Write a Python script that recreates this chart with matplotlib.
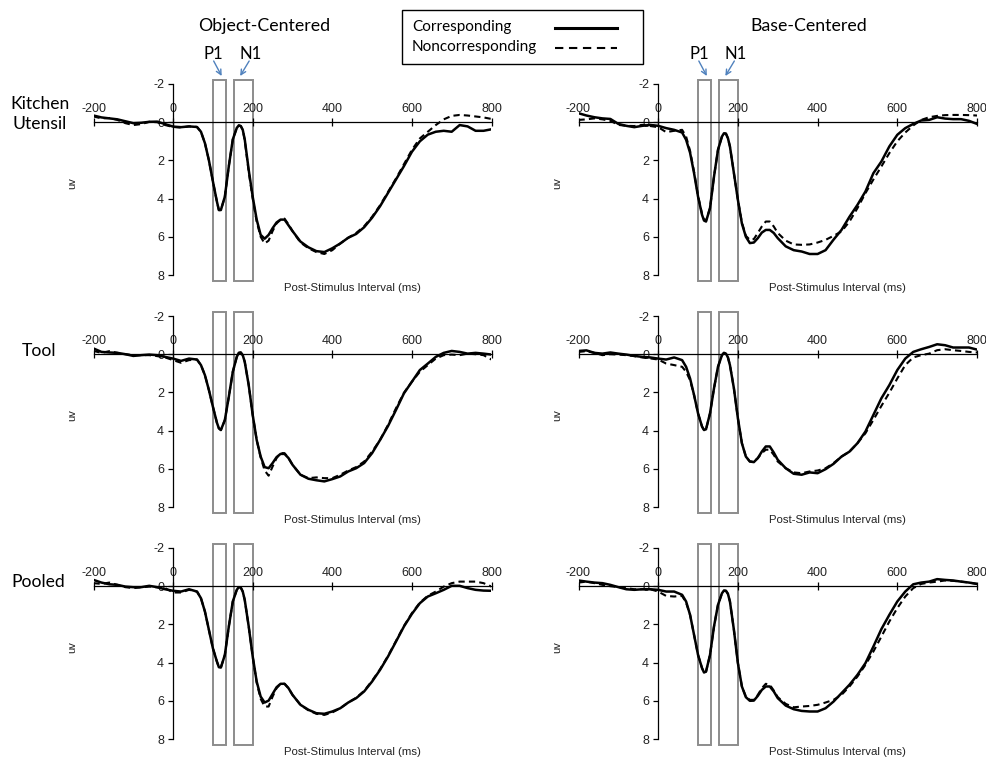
import numpy as np
import matplotlib
matplotlib.use('Agg')
import matplotlib.pyplot as plt
from matplotlib.patches import Rectangle
from matplotlib.lines import Line2D

plt.rcParams['axes.unicode_minus'] = False

# ---------------- data ----------------
time_ms = [-200, -180, -160, -140, -120, -100, -80, -60, -40, -20, 0, 20, 40, 60,
           70, 80, 90, 100, 110, 115, 120, 130, 140, 150, 160, 165, 170, 175, 180, 190,
           200, 210, 220, 230, 240, 250, 260, 270, 280, 290, 300,
           320, 340, 360, 380, 400, 420, 440, 460, 480, 500, 520, 540, 560, 580, 600,
           620, 640, 660, 680, 700, 720, 740, 760, 780, 800]

# Kitchen Utensil - Object-Centered
ku_obj_corr = [-0.35, -0.25, -0.2, -0.15, -0.05, 0.05, 0.03, -0.02, -0.03, 0.1, 0.23, 0.26, 0.22, 0.25,
               0.5, 1.1, 2.0, 3.1, 4.15, 4.6, 4.6, 3.9, 2.3, 0.9, 0.3, 0.17, 0.2, 0.4, 0.9, 2.5,
               3.9, 5.1, 5.9, 6.1, 5.9, 5.55, 5.25, 5.1, 5.1, 5.4, 5.7,
               6.25, 6.55, 6.75, 6.8, 6.6, 6.35, 6.05, 5.85, 5.5, 5.0, 4.4, 3.7, 3.0, 2.3, 1.55,
               1.0, 0.65, 0.5, 0.45, 0.5, 0.15, 0.22, 0.45, 0.45, 0.37]
ku_obj_non = [-0.3, -0.2, -0.22, -0.12, 0.05, 0.15, 0.1, -0.02, 0.0, 0.15, 0.25, 0.28, 0.22, 0.25,
              0.5, 1.1, 2.0, 3.1, 4.15, 4.6, 4.6, 3.9, 2.3, 0.9, 0.3, 0.17, 0.2, 0.4, 0.95, 2.6,
              4.0, 5.2, 6.0, 6.35, 6.2, 5.7, 5.3, 5.1, 5.05, 5.35, 5.7,
              6.3, 6.6, 6.8, 6.9, 6.7, 6.35, 6.05, 5.8, 5.45, 4.95, 4.35, 3.65, 2.95, 2.2, 1.45,
              0.85, 0.5, 0.15, -0.15, -0.33, -0.38, -0.35, -0.3, -0.25, -0.17]

# Kitchen Utensil - Base-Centered
ku_base_corr = [-0.47, -0.35, -0.26, -0.2, -0.17, 0.09, 0.19, 0.26, 0.19, 0.14, 0.19, 0.31, 0.4, 0.54,
                0.92, 1.6, 2.67, 3.9, 4.85, 5.15, 5.2, 4.5, 2.85, 1.45, 0.75, 0.58, 0.6, 0.84, 1.27, 2.67,
                4.07, 5.3, 6.0, 6.33, 6.3, 6.07, 5.78, 5.64, 5.64, 5.8, 6.07,
                6.5, 6.7, 6.77, 6.9, 6.9, 6.7, 6.15, 5.64, 4.95, 4.33, 3.63, 2.67, 2.06, 1.27, 0.66,
                0.31, 0.09, -0.09, -0.12, -0.26, -0.19, -0.16, -0.16, -0.07, 0.09]
ku_base_non = [-0.12, -0.15, -0.2, -0.15, -0.07, 0.14, 0.19, 0.2, 0.14, 0.2, 0.26, 0.52, 0.45, 0.4,
               0.75, 1.5, 2.6, 3.85, 4.8, 5.1, 5.15, 4.5, 2.85, 1.45, 0.75, 0.58, 0.6, 0.84, 1.27, 2.67,
               4.07, 5.25, 5.95, 6.16, 6.12, 5.8, 5.46, 5.2, 5.2, 5.46, 5.8,
               6.2, 6.4, 6.42, 6.4, 6.3, 6.16, 5.95, 5.72, 5.2, 4.5, 3.72, 3.0, 2.32, 1.62, 1.0,
               0.54, 0.17, -0.12, -0.26, -0.33, -0.37, -0.38, -0.38, -0.37, -0.35]

# Tool - Object-Centered
tool_obj_corr = [-0.3, -0.12, -0.09, -0.07, 0.0, 0.09, 0.05, 0.02, 0.05, 0.14, 0.23, 0.35, 0.23, 0.28,
                 0.57, 1.1, 1.88, 2.75, 3.58, 3.88, 3.97, 3.45, 2.23, 0.92, 0.14, -0.07, -0.09, 0.05, 0.4, 1.62,
                 3.18, 4.49, 5.36, 5.91, 5.97, 5.7, 5.39, 5.22, 5.22, 5.44, 5.79,
                 6.31, 6.52, 6.6, 6.66, 6.54, 6.4, 6.14, 5.97, 5.7, 5.18, 4.49, 3.76, 2.92, 2.05, 1.44,
                 0.83, 0.49, 0.14, -0.07, -0.17, -0.12, -0.03, -0.07, -0.03, 0.02]
tool_obj_non = [-0.17, -0.07, -0.16, -0.07, 0.0, 0.05, 0.05, 0.05, 0.1, 0.17, 0.31, 0.45, 0.31, 0.28,
                0.57, 1.1, 1.88, 2.75, 3.58, 3.88, 3.97, 3.45, 2.23, 0.92, 0.14, -0.07, -0.09, 0.05, 0.4, 1.62,
                3.18, 4.49, 5.4, 6.09, 6.36, 5.88, 5.44, 5.18, 5.18, 5.44, 5.79,
                6.31, 6.49, 6.45, 6.49, 6.49, 6.31, 6.09, 5.91, 5.62, 5.1, 4.49, 3.7, 2.83, 2.02, 1.44,
                0.92, 0.57, 0.23, 0.05, 0.02, 0.05, -0.03, 0.0, 0.05, 0.28]

# Tool - Base-Centered
tool_base_corr = [-0.17, -0.2, -0.07, -0.03, -0.09, -0.03, 0.02, 0.09, 0.14, 0.17, 0.23, 0.28, 0.17, 0.31,
                  0.66, 1.27, 2.14, 3.1, 3.79, 3.97, 3.93, 3.1, 1.79, 0.66, 0.05, -0.07, -0.03, 0.17, 0.57, 1.79,
                  3.36, 4.66, 5.36, 5.62, 5.65, 5.44, 5.1, 4.83, 4.83, 5.15, 5.53,
                  5.97, 6.26, 6.31, 6.19, 6.23, 6.02, 5.74, 5.36, 5.1, 4.66, 4.05, 3.18, 2.31, 1.62, 0.83,
                  0.23, -0.12, -0.26, -0.38, -0.52, -0.47, -0.35, -0.35, -0.35, -0.24]
tool_base_non = [-0.12, -0.16, -0.07, 0.05, 0.0, 0.02, 0.05, 0.1, 0.17, 0.22, 0.28, 0.49, 0.57, 0.66,
                 0.92, 1.36, 2.14, 3.1, 3.79, 3.97, 3.93, 3.1, 1.79, 0.66, 0.05, -0.07, -0.03, 0.17, 0.57, 1.79,
                 3.36, 4.66, 5.36, 5.62, 5.62, 5.44, 5.18, 5.0, 5.0, 5.27, 5.62,
                 5.97, 6.19, 6.23, 6.14, 6.09, 5.97, 5.7, 5.36, 5.1, 4.66, 4.14, 3.44, 2.71, 2.02, 1.27,
                 0.57, 0.17, 0.05, -0.03, -0.21, -0.26, -0.21, -0.17, -0.12, -0.09]

# Pooled - Object-Centered
pool_obj_corr = [-0.33, -0.19, -0.1, -0.07, 0.02, 0.05, 0.05, -0.02, 0.05, 0.16, 0.24, 0.28, 0.16, 0.28,
                 0.63, 1.33, 2.29, 3.25, 3.94, 4.24, 4.26, 3.6, 2.11, 0.8, 0.19, 0.05, 0.07, 0.28, 0.72, 2.11,
                 3.68, 4.99, 5.78, 6.09, 5.99, 5.64, 5.29, 5.11, 5.11, 5.34, 5.69,
                 6.21, 6.47, 6.65, 6.68, 6.56, 6.39, 6.09, 5.86, 5.51, 4.99, 4.38, 3.68, 2.9, 2.11, 1.45,
                 0.89, 0.54, 0.37, 0.19, -0.02, -0.02, 0.1, 0.19, 0.23, 0.24]
pool_obj_non = [-0.16, -0.12, -0.19, -0.07, 0.05, 0.1, 0.06, 0.02, 0.06, 0.1, 0.33, 0.33, 0.19, 0.28,
                0.63, 1.33, 2.29, 3.25, 3.94, 4.24, 4.26, 3.6, 2.11, 0.8, 0.19, 0.05, 0.07, 0.28, 0.72, 2.11,
                3.68, 5.05, 5.9, 6.3, 6.3, 5.78, 5.34, 5.11, 5.11, 5.34, 5.69,
                6.21, 6.5, 6.68, 6.74, 6.61, 6.39, 6.09, 5.84, 5.48, 4.95, 4.35, 3.65, 2.87, 2.08, 1.41,
                0.86, 0.5, 0.28, 0.02, -0.16, -0.24, -0.24, -0.24, -0.16, 0.02]

# Pooled - Base-Centered
pool_base_corr = [-0.3, -0.24, -0.19, -0.16, -0.07, 0.05, 0.16, 0.19, 0.16, 0.16, 0.19, 0.28, 0.28, 0.45,
                  0.8, 1.5, 2.55, 3.6, 4.29, 4.52, 4.47, 3.6, 2.11, 0.98, 0.37, 0.23, 0.24, 0.4, 0.8, 2.29,
                  4.03, 5.25, 5.81, 6.0, 5.99, 5.74, 5.43, 5.25, 5.25, 5.51, 5.86,
                  6.25, 6.44, 6.53, 6.56, 6.56, 6.39, 6.04, 5.6, 5.16, 4.64, 4.03, 3.16, 2.25, 1.5, 0.8,
                  0.28, -0.1, -0.19, -0.24, -0.37, -0.33, -0.3, -0.24, -0.19, -0.12]
pool_base_non = [-0.19, -0.24, -0.16, -0.07, 0.0, 0.05, 0.1, 0.16, 0.16, 0.16, 0.28, 0.51, 0.54, 0.51,
                 0.86, 1.5, 2.55, 3.6, 4.29, 4.52, 4.47, 3.6, 2.11, 0.98, 0.37, 0.23, 0.24, 0.4, 0.8, 2.29,
                 4.03, 5.25, 5.78, 5.95, 5.95, 5.69, 5.34, 5.11, 5.16, 5.46, 5.81,
                 6.16, 6.34, 6.3, 6.27, 6.21, 6.09, 5.95, 5.69, 5.25, 4.73, 4.12, 3.42, 2.64, 1.85, 1.15,
                 0.54, 0.1, -0.12, -0.19, -0.24, -0.3, -0.28, -0.24, -0.19, -0.12]

x_ticks = [-200, 0, 200, 400, 600, 800]
y_ticks = [-2, 0, 2, 4, 6, 8]
col_titles = ['Object-Centered', 'Base-Centered']
row_labels = ['Kitchen\nUtensil', 'Tool', 'Pooled']
legend_labels = ['Corresponding', 'Noncorresponding']
p1_window = (100, 133)
n1_window = (152, 201)

panels = [[(ku_obj_corr, ku_obj_non), (ku_base_corr, ku_base_non)],
          [(tool_obj_corr, tool_obj_non), (tool_base_corr, tool_base_non)],
          [(pool_obj_corr, pool_obj_non), (pool_base_corr, pool_base_non)]]

# ---------------- layout ----------------
W, H = 986, 758
fig = plt.figure(figsize=(W / 100, H / 100), dpi=100)

def fx(px):
    return px / W

def fy(py):
    return 1 - py / H

title_font = ['Lato', 'DejaVu Sans']
tick_font = ['Liberation Sans', 'DejaVu Sans']

cols = [(93.5, 491.5), (578.5, 977.0)]
rows_top = [84, 316, 548]  # pixel position of y = -2
unit = 19.1
ylo, yhi = -2.4, 8.4

solid_kw = dict(color='black', lw=1.8, solid_joinstyle='round', solid_capstyle='round')
dash_kw = dict(color='black', lw=1.5, linestyle=(0, (3.0, 2.0)))
box_kw = dict(fill=False, edgecolor='#8c8c8c', lw=1.4, clip_on=False)

for r in range(3):
    for c in range(2):
        x0, x1 = cols[c]
        top = rows_top[r] + (ylo + 2) * unit
        bot = rows_top[r] + (yhi + 2) * unit
        ax = fig.add_axes([fx(x0), fy(bot), (x1 - x0) / W, (bot - top) / H])
        ax.patch.set_visible(False)
        ax.set_xlim(-200, 800)
        ax.set_ylim(yhi, ylo)

        corr, non = panels[r][c]
        ax.plot(time_ms, corr, **solid_kw)
        ax.plot(time_ms, non, **dash_kw)

        for (a, b) in (p1_window, n1_window):
            ax.add_patch(Rectangle((a, -2.2), b - a, 10.5, **box_kw))

        for s in ('bottom', 'right'):
            ax.spines[s].set_visible(False)
        ax.spines['top'].set_position(('data', 0))
        ax.spines['left'].set_position(('data', 0))
        ax.spines['left'].set_bounds(-2, 8)
        for s in ('top', 'left'):
            ax.spines[s].set_linewidth(0.9)
        ax.xaxis.set_ticks_position('top')
        ax.set_xticks(x_ticks)
        ax.set_yticks(y_ticks)
        ax.set_xticklabels([str(v) for v in x_ticks])
        ax.set_yticklabels([str(v) for v in y_ticks])
        ax.tick_params(axis='x', direction='inout', length=6, width=0.9, pad=2.0,
                       labelsize=9, labelcolor='#222222')
        ax.tick_params(axis='y', direction='out', length=3.5, width=0.9, pad=3,
                       labelsize=9, labelcolor='#222222')
        for lab in ax.get_xticklabels() + ax.get_yticklabels():
            lab.set_family(tick_font)

        ax.set_ylabel('uv', family=tick_font, fontsize=8, color='#222222')
        ax.yaxis.set_label_coords(-0.041, 0.483)
        ax.text(451, 8.68, 'Post-Stimulus Interval (ms)', ha='center', va='center',
                family=tick_font, fontsize=8.2, color='#222222')

        if r == 0:
            zero_px = x0 + (x1 - x0) * 200 / 1000
            pxpm = (x1 - x0) / 1000
            p1x = zero_px + 117 * pxpm
            n1x = zero_px + 176 * pxpm
            fig.text(fx(p1x - 6), fy(54), 'P1', ha='center', va='center',
                     family=title_font, fontsize=12)
            fig.text(fx(n1x + 7), fy(54), 'N1', ha='center', va='center',
                     family=title_font, fontsize=12)
            ax.annotate('', xy=(fx(p1x + 2), fy(76)), xycoords='figure fraction',
                        xytext=(fx(p1x - 6), fy(61)), textcoords='figure fraction',
                        arrowprops=dict(arrowstyle='->', color='#4F81BD', lw=1.0,
                                        shrinkA=0, shrinkB=0, mutation_scale=9))
            ax.annotate('', xy=(fx(n1x - 3), fy(76)), xycoords='figure fraction',
                        xytext=(fx(n1x + 6), fy(61)), textcoords='figure fraction',
                        arrowprops=dict(arrowstyle='->', color='#4F81BD', lw=1.0,
                                        shrinkA=0, shrinkB=0, mutation_scale=9))

# column titles
fig.text(fx(264), fy(26), col_titles[0], ha='center', va='center', family=title_font, fontsize=12.8)
fig.text(fx(809), fy(26), col_titles[1], ha='center', va='center', family=title_font, fontsize=12.8)

# row labels
fig.text(fx(40), fy(114), row_labels[0], ha='center', va='center', family=title_font,
         fontsize=12.6, linespacing=1.3)
fig.text(fx(38.5), fy(351), row_labels[1], ha='center', va='center', family=title_font, fontsize=12.6)
fig.text(fx(38.5), fy(582), row_labels[2], ha='center', va='center', family=title_font, fontsize=12.6)

# legend
fig.patches.append(Rectangle((fx(402), fy(64)), fx(643) - fx(402), fy(10) - fy(64),
                             transform=fig.transFigure, fill=False, edgecolor='black', lw=1.0))
fig.text(fx(412), fy(27), legend_labels[0], ha='left', va='center', family=title_font, fontsize=11)
fig.text(fx(412), fy(47), legend_labels[1], ha='left', va='center', family=title_font, fontsize=11)
fig.lines.append(Line2D([fx(555), fx(617)], [fy(28), fy(28)], transform=fig.transFigure,
                        color='black', lw=2.2))
fig.lines.append(Line2D([fx(555), fx(617)], [fy(48), fy(48)], transform=fig.transFigure,
                        color='black', lw=1.5, linestyle=(0, (4.0, 2.7))))

fig.savefig('out.png', dpi=100)
